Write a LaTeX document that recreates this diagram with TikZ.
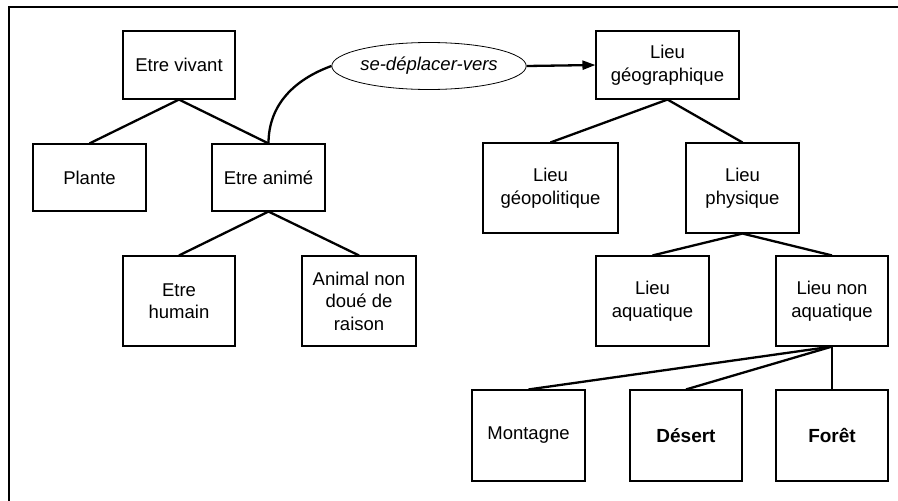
\documentclass[tikz,border=0pt]{standalone}
\usepackage{fontspec}
\setmainfont{Liberation Sans}
\usetikzlibrary{shapes.geometric,arrows.meta}
\begin{document}
\begin{tikzpicture}[x=1pt,y=-1pt,
  box/.style={draw,line width=1.1pt,rectangle,inner sep=0pt,align=center,
    font=\fontsize{18.5}{22.5}\selectfont},
  link/.style={line width=2.3pt}]
\useasboundingbox (0,0) rectangle (898,501);
\draw[line width=2pt] (9,501) -- (9,7) -- (898,7);
% boxes: (x1,y1) to (x2,y2)
\newcommand{\bx}[6]{\node[box,minimum width={#3-#1},minimum height={#4-#2}] (#5) at ({(#1+#3)/2},{(#2+#4)/2}) {#6};}
\bx{123}{31}{235}{99}{vivant}{Etre vivant}
\bx{33}{144}{146}{211}{plante}{Plante}
\bx{212}{144}{325}{211}{anime}{Etre animé}
\bx{123}{256}{235}{346}{humain}{Etre\\humain}
\bx{302}{256}{416}{346}{animal}{Animal non\\doué de\\raison}
\bx{596}{31}{739}{99}{geo}{Lieu\\géographique}
\bx{483}{143}{618}{233}{geopol}{Lieu\\géopolitique}
\bx{686}{143}{799}{233}{phys}{Lieu\\physique}
\bx{596}{256}{709}{346}{aqua}{Lieu\\aquatique}
\bx{776}{256}{888}{346}{nonaqua}{Lieu non\\aquatique}
\bx{472}{390}{585}{481}{montagne}{Montagne}
\bx{630}{390}{742}{481}{desert}{\fontsize{19}{22}\selectfont\bfseries Désert}
\bx{776}{390}{888}{481}{foret}{\fontsize{19}{22}\selectfont\bfseries Forêt}
\node[draw,ellipse,line width=0.8pt,minimum width=180,minimum height=47,inner sep=0pt,
  font=\fontsize{18.5}{22}\selectfont\itshape] (rel) at (429,66) {se-déplacer-vers};
% connectors
\draw[link] (vivant.south) -- (plante.north);
\draw[link] (vivant.south) -- (anime.north);
\draw[link] (anime.south) -- (humain.north);
\draw[link] (anime.south) -- (animal.north);
\draw[link] (geo.south) -- (geopol.north);
\draw[link] (geo.south) -- (phys.north);
\draw[link] (phys.south) -- (aqua.north);
\draw[link] (phys.south) -- (nonaqua.north);
\draw[link] (nonaqua.south) -- (montagne.north);
\draw[link] (nonaqua.south) -- (desert.north);
\draw[link] (nonaqua.south) -- (foret.north);
\draw[link] (anime.north) to[out=90,in=200] (rel.west);
\draw[link,-{Triangle[length=13pt,width=9pt]}] (rel.east) -- (geo.west);
\end{tikzpicture}
\end{document}
